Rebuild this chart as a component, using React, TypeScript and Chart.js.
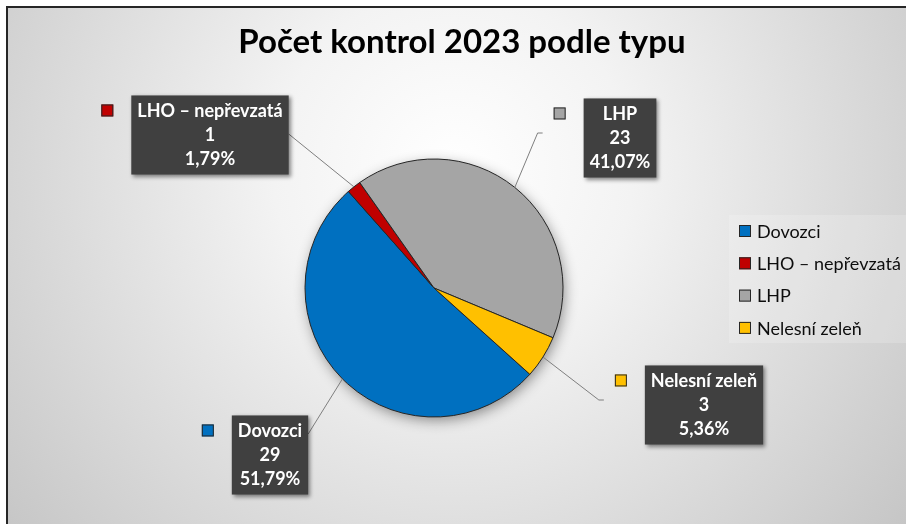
import React, { useEffect, useRef } from 'react';
import { Chart, registerables } from 'chart.js';

Chart.register(...registerables);

// ---- data ----
const TITLE = 'Počet kontrol 2023 podle typu';
const categories = ['Dovozci', 'LHO – nepřevzatá', 'LHP', 'Nelesní zeleň'];
const counts = [29, 1, 23, 3];
const colors = ['#0070C0', '#C00000', '#A5A5A5', '#FFC000'];

// label placement relative to the pie centre (layout only)
const labelLayout = [
  { dx: -164, dy: 167, side: 'left', endDy: -21 },
  { dx: -224, dy: -153, side: 'left', endDy: -1 },
  { dx: 186, dy: -150, side: 'right', endDy: -5 },
  { dx: 270, dy: 117, side: 'right', endDy: -5 },
];

const FONT = 'Lato, "Open Sans", sans-serif';

const bgPlugin = {
  id: 'bg',
  beforeDraw(chart: any) {
    const ctx = chart.ctx;
    const w = chart.width, h = chart.height;
    ctx.save();
    ctx.fillStyle = '#ffffff';
    ctx.fillRect(0, 0, w, h);
    const g = ctx.createRadialGradient(453, 170, 0, 453, 170, 600);
    g.addColorStop(0, '#ffffff');
    g.addColorStop(0.3, '#f3f3f3');
    g.addColorStop(1, '#c3c3c3');
    ctx.fillStyle = g;
    ctx.fillRect(8, 8, w - 8, h - 8);
    ctx.strokeStyle = '#262626';
    ctx.lineWidth = 2;
    ctx.beginPath();
    ctx.moveTo(7, h);
    ctx.lineTo(7, 7);
    ctx.lineTo(w, 7);
    ctx.stroke();
    // legend background
    ctx.fillStyle = 'rgba(255,255,255,0.18)';
    ctx.fillRect(729, 215, w - 729, 128);
    ctx.restore();
  },
};

const titlePlugin = {
  id: 'chartTitle',
  afterDraw(chart: any) {
    const ctx = chart.ctx;
    ctx.save();
    ctx.font = `bold 33px ${FONT}`;
    ctx.fillStyle = '#000000';
    ctx.textAlign = 'center';
    ctx.textBaseline = 'alphabetic';
    ctx.fillText(TITLE, 462, 53);
    ctx.restore();
  },
};

const shadowPlugin = {
  id: 'pieShadow',
  beforeDatasetsDraw(chart: any) {
    const el = chart.getDatasetMeta(0).data[0];
    if (!el) return;
    const ctx = chart.ctx;
    ctx.save();
    ctx.shadowColor = 'rgba(0,0,0,0.45)';
    ctx.shadowBlur = 14;
    ctx.shadowOffsetX = 2;
    ctx.shadowOffsetY = 4;
    ctx.fillStyle = '#888';
    ctx.beginPath();
    ctx.arc(el.x, el.y, el.outerRadius - 1, 0, Math.PI * 2);
    ctx.fill();
    ctx.restore();
  },
};

const labelPlugin = {
  id: 'calloutLabels',
  afterDatasetsDraw(chart: any) {
    const ctx = chart.ctx;
    const meta = chart.getDatasetMeta(0);
    const total = counts.reduce((a, b) => a + b, 0);
    const lineH = 23.7;
    const pad = 6;
    meta.data.forEach((el: any, i: number) => {
      const lay = labelLayout[i];
      const lines = [
        categories[i],
        String(counts[i]),
        ((counts[i] / total) * 100).toFixed(2).replace('.', ',') + '%',
      ];
      ctx.save();
      ctx.font = `bold 18px ${FONT}`;
      const tw = Math.max(...lines.map((t) => ctx.measureText(t).width));
      const bw = tw + pad * 2;
      const bh = lineH * 3 + 8;
      const cx = el.x + lay.dx;
      const cy = el.y + lay.dy;
      const left = cx - bw / 2;
      const top = cy - bh / 2;
      const keyLeft = left - 18 - 12;

      // leader line
      const mid = (el.startAngle + el.endAngle) / 2;
      const ax = el.x + Math.cos(mid) * el.outerRadius;
      const ay = el.y + Math.sin(mid) * el.outerRadius;
      ctx.strokeStyle = '#7f7f7f';
      ctx.lineWidth = 1;
      ctx.beginPath();
      ctx.moveTo(ax, ay);
      if (lay.side === 'left') {
        ctx.lineTo(left + bw, cy + lay.endDy);
      } else {
        const ex = keyLeft - 11;
        const ey = cy + lay.endDy;
        ctx.lineTo(ex - 5, ey);
        ctx.lineTo(ex, ey);
      }
      ctx.stroke();

      // box
      ctx.shadowColor = 'rgba(0,0,0,0.45)';
      ctx.shadowBlur = 4;
      ctx.shadowOffsetX = 2;
      ctx.shadowOffsetY = 2;
      ctx.fillStyle = '#404040';
      ctx.fillRect(left, top, bw, bh);
      ctx.shadowColor = 'transparent';

      // key
      ctx.fillStyle = colors[i];
      ctx.fillRect(keyLeft, top + 9, 12, 12);
      ctx.strokeStyle = '#262626';
      ctx.strokeRect(keyLeft + 0.5, top + 9.5, 11, 11);

      // text
      ctx.fillStyle = '#ffffff';
      ctx.textAlign = 'center';
      ctx.textBaseline = 'middle';
      lines.forEach((t, j) => {
        ctx.fillText(t, cx, top + 4 + lineH / 2 + j * lineH);
      });
      ctx.restore();
    });
  },
};

const legendPlugin = {
  id: 'sideLegend',
  afterDraw(chart: any) {
    const ctx = chart.ctx;
    ctx.save();
    ctx.font = `18px ${FONT}`;
    ctx.textBaseline = 'middle';
    ctx.textAlign = 'left';
    categories.forEach((c, i) => {
      const y = 231 + i * 32.3;
      ctx.fillStyle = colors[i];
      ctx.fillRect(739, y - 6, 12, 12);
      ctx.strokeStyle = '#262626';
      ctx.lineWidth = 1;
      ctx.strokeRect(739.5, y - 5.5, 11, 11);
      ctx.fillStyle = '#0d0d0d';
      ctx.fillText(c, 757, y + 1);
    });
    ctx.restore();
  },
};

export default function App() {
  const ref = useRef<HTMLCanvasElement>(null);
  useEffect(() => {
    const chart = new Chart(ref.current as HTMLCanvasElement, {
      type: 'pie',
      data: {
        labels: categories,
        datasets: [
          {
            data: counts,
            backgroundColor: colors,
            borderColor: '#262626',
            borderWidth: 1,
            radius: 129,
          } as any,
        ],
      },
      options: {
        responsive: false,
        animation: false,
        rotation: 132,
        layout: { padding: { left: 0, right: 38, top: 71, bottom: 19 } },
        plugins: {
          legend: { display: false },
          tooltip: { enabled: false },
          title: { display: false },
        },
      } as any,
      plugins: [bgPlugin, shadowPlugin, labelPlugin, legendPlugin, titlePlugin],
    });
    return () => chart.destroy();
  }, []);
  return (
    <div style={{ position: 'fixed', left: 0, top: 0, width: 906, height: 524 }}>
      <canvas ref={ref} width={906} height={524} style={{ display: 'block', width: 906, height: 524 }} />
    </div>
  );
}
